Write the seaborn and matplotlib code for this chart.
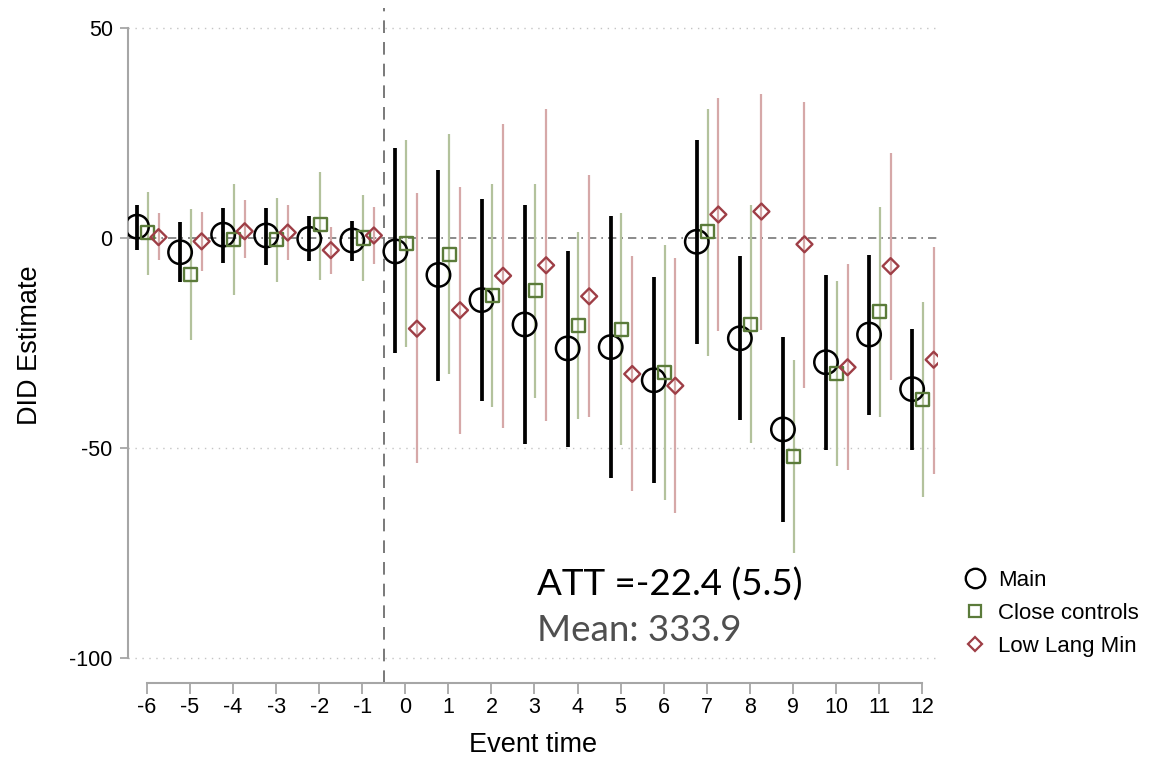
import numpy as np
import pandas as pd
import matplotlib
matplotlib.use("Agg")
import matplotlib.pyplot as plt
from matplotlib.lines import Line2D
import seaborn as sns

# Event-study estimates with 95% confidence bounds
event_time = [-6, -5, -4, -3, -2, -1, 0, 1, 2, 3, 4, 5, 6, 7, 8, 9, 10, 11, 12]

main_est = [2.7, -3.4, 0.8, 0.6, -0.2, -0.6, -3.2, -8.8, -14.8, -20.6, -26.3, -26.0,
            -33.9, -0.9, -23.9, -45.6, -29.6, -23.0, -36.0]
main_lo = [-2.8, -10.6, -6.0, -6.4, -5.6, -5.6, -27.5, -34.0, -38.9, -49.0, -49.9, -57.2,
           -58.4, -25.2, -43.3, -67.7, -50.6, -42.1, -50.5]
main_hi = [7.9, 3.9, 7.2, 7.1, 5.2, 4.0, 21.5, 16.3, 9.4, 7.9, -3.2, 5.2,
           -9.4, 23.3, -4.4, -23.5, -8.7, -4.0, -21.7]

close_est = [1.2, -8.7, -0.4, -0.4, 3.1, 0.0, -1.2, -3.9, -13.7, -12.6, -20.9, -21.8,
             -32.1, 1.5, -20.5, -52.1, -32.2, -17.5, -38.5]
close_lo = [-8.8, -24.3, -13.6, -10.5, -10.0, -10.2, -26.0, -32.5, -40.2, -38.0, -43.2, -49.4,
            -62.4, -28.0, -48.9, -75.1, -54.2, -42.7, -61.7]
close_hi = [11.0, 6.8, 12.9, 9.6, 15.8, 10.2, 23.4, 24.8, 12.8, 12.8, 1.5, 5.9,
            -1.7, 30.8, 7.9, -29.0, -10.3, 7.5, -15.3]

low_est = [0.2, -0.8, 1.6, 1.3, -2.9, 0.6, -21.6, -17.2, -9.0, -6.5, -13.9, -32.4,
           -35.2, 5.6, 6.3, -1.5, -30.8, -6.7, -29.0]
low_lo = [-5.2, -7.9, -4.8, -5.2, -8.6, -6.3, -53.6, -46.6, -45.3, -43.7, -42.6, -60.3,
          -65.5, -22.2, -21.9, -35.7, -55.2, -33.8, -56.3]
low_hi = [6.0, 6.3, 9.1, 7.9, 2.7, 7.5, 10.6, 12.1, 27.2, 30.7, 14.9, -4.2,
          -4.8, 33.4, 34.4, 32.5, -6.2, 20.3, -2.2]

series_names = ["Main", "Close controls", "Low Lang Min"]
att_text = "ATT =-22.4 (5.5)"
mean_text = "Mean: 333.9"

sns.set_theme(style="white")
plt.rcParams["font.family"] = ["Liberation Sans", "DejaVu Sans"]
plt.rcParams["text.color"] = "black"
plt.rcParams["axes.labelcolor"] = "black"

frames = []
for name, est, lo, hi in [
    (series_names[0], main_est, main_lo, main_hi),
    (series_names[1], close_est, close_lo, close_hi),
    (series_names[2], low_est, low_lo, low_hi),
]:
    frames.append(pd.DataFrame({"event_time": event_time, "estimate": est,
                                "lo": lo, "hi": hi, "spec": name}))
df = pd.concat(frames, ignore_index=True)

styles = {
    "Main": dict(offset=-0.23, ci_color="black", ci_lw=2.7, marker="o", s=285,
                 edge="black", mlw=1.8),
    "Close controls": dict(offset=0.02, ci_color="#b3c29c", ci_lw=1.6, marker="s", s=88,
                           edge="#5b7b3a", mlw=1.7),
    "Low Lang Min": dict(offset=0.27, ci_color="#d6a8a8", ci_lw=1.6, marker="D", s=66,
                         edge="#9e3e46", mlw=1.7),
}

fig = plt.figure(figsize=(11.53, 7.57), dpi=100)
ax = fig.add_axes([0.1110, 0.0978, 0.7025, 0.8917])

xlim = (-6.44, 12.37)
ylim = (-106.0, 54.8)

# reference lines
for yv in [50, -50, -100]:
    ax.axhline(yv, color="#c4c4c4", lw=1.0, ls=(0, (1, 4)), zorder=0)
ax.axhline(0, color="#777777", lw=1.2, ls=(0, (5, 3, 1, 3)), zorder=1)
ax.axvline(-0.5, color="#6e6e6e", lw=1.3, ls=(0, (7, 5)), zorder=1)

for name in series_names:
    st = styles[name]
    sub = df[df["spec"] == name].copy()
    sub["x"] = sub["event_time"] + st["offset"]
    ax.vlines(sub["x"], sub["lo"], sub["hi"], color=st["ci_color"], lw=st["ci_lw"], zorder=2)

for name in series_names:
    st = styles[name]
    sub = df[df["spec"] == name].copy()
    sub["x"] = sub["event_time"] + st["offset"]
    sns.scatterplot(data=sub, x="x", y="estimate", ax=ax, marker=st["marker"], s=st["s"],
                    facecolors="none", edgecolor=st["edge"], linewidth=st["mlw"],
                    zorder=3, legend=False)

ax.set_xlim(*xlim)
ax.set_ylim(*ylim)
ax.set_xticks(event_time)
ax.set_xticklabels([str(v) for v in event_time])
ax.set_yticks([-100, -50, 0, 50])
ax.set_yticklabels(["-100", "-50", "0", "50"])

for side in ["top", "right"]:
    ax.spines[side].set_visible(False)
for side in ["left", "bottom"]:
    ax.spines[side].set_color("#a6a6a6")
    ax.spines[side].set_linewidth(1.5)
ax.spines["left"].set_bounds(-100, 50)
ax.spines["bottom"].set_bounds(-6, 12)

ax.tick_params(axis="both", which="major", colors="#a6a6a6", labelcolor="black",
               labelsize=15.5, width=1.3, bottom=True, left=True)
ax.tick_params(axis="y", length=6, pad=5)
ax.tick_params(axis="x", length=8, pad=2)

ax.set_xlabel("Event time", fontsize=19.5, labelpad=10)
ax.set_ylabel("DID Estimate", fontsize=19.5, labelpad=19)

ax.text(3.06, -82.6, att_text, fontsize=26.5, family=["Lato", "DejaVu Sans"],
        color="black", va="center", ha="left")
ax.text(3.06, -93.4, mean_text, fontsize=26.5, family=["Lato", "DejaVu Sans"],
        color="#4f4f4f", va="center", ha="left")

handles = [
    Line2D([], [], ls="none", marker="o", markersize=14, markerfacecolor="none",
           markeredgecolor="black", markeredgewidth=1.7),
    Line2D([], [], ls="none", marker="s", markersize=8.5, markerfacecolor="none",
           markeredgecolor=styles["Close controls"]["edge"], markeredgewidth=1.6),
    Line2D([], [], ls="none", marker="D", markersize=7.5, markerfacecolor="none",
           markeredgecolor=styles["Low Lang Min"]["edge"], markeredgewidth=1.6),
]
fig.legend(handles, series_names, loc="upper left", bbox_to_anchor=(0.828, 0.259),
           frameon=False, fontsize=16, handlelength=1.0, handletextpad=0.55,
           labelspacing=0.55, borderaxespad=0)

fig.savefig("out.png", dpi=100)
